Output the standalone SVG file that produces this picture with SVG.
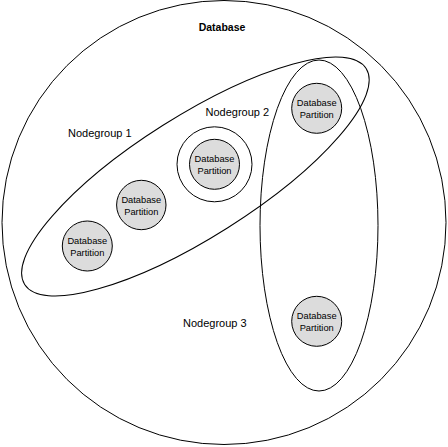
<svg xmlns="http://www.w3.org/2000/svg" width="448" height="447" viewBox="0 0 448 447">
<style>
.ln{fill:none;stroke:#000;stroke-width:1}
.pt{fill:#dcdcdc;stroke:#000;stroke-width:1}
.t{font-family:"Liberation Sans",Arial,sans-serif;fill:#000}
.pl{font-size:9.3px;text-anchor:middle}
.gl{font-size:11px}
</style>
<rect width="448" height="447" fill="#fff"/>
<g id="database">
<circle class="ln" cx="224" cy="222.5" r="222"/>
<text class="t" x="222" y="31" font-size="10.5" font-weight="bold" text-anchor="middle">Database</text>
</g>
<g id="connectors"></g>
<g id="nodegroup1">
<ellipse class="ln" cx="195.4" cy="176.5" rx="202" ry="60.6" transform="rotate(-32.3 195.4 176.5)"/>
<text class="t gl" x="68" y="137">Nodegroup 1</text>
</g>
<g id="nodegroup3">
<ellipse class="ln" cx="319" cy="225.5" rx="59" ry="165.5"/>
<text class="t gl" x="183" y="327">Nodegroup 3</text>
</g>
<g id="nodegroup2">
<circle class="ln" cx="214.5" cy="164.3" r="37.5"/>
<text class="t gl" x="205.5" y="116">Nodegroup 2</text>
</g>
<g id="partition1">
<circle class="pt" cx="87.3" cy="246" r="25"/>
<text class="t pl" x="87.3" y="244">Database</text>
<text class="t pl" x="87.3" y="256">Partition</text>
</g>
<g id="partition2">
<circle class="pt" cx="141.3" cy="205" r="24.7"/>
<text class="t pl" x="141.3" y="203">Database</text>
<text class="t pl" x="141.3" y="215">Partition</text>
</g>
<g id="partition3">
<circle class="pt" cx="214.5" cy="164.3" r="25"/>
<text class="t pl" x="214.5" y="162">Database</text>
<text class="t pl" x="214.5" y="174">Partition</text>
</g>
<g id="partition4">
<circle class="pt" cx="316.7" cy="108.3" r="25"/>
<text class="t pl" x="316.7" y="106">Database</text>
<text class="t pl" x="316.7" y="118">Partition</text>
</g>
<g id="partition5">
<circle class="pt" cx="316.7" cy="321.3" r="25"/>
<text class="t pl" x="316.7" y="319">Database</text>
<text class="t pl" x="316.7" y="331">Partition</text>
</g>
</svg>
